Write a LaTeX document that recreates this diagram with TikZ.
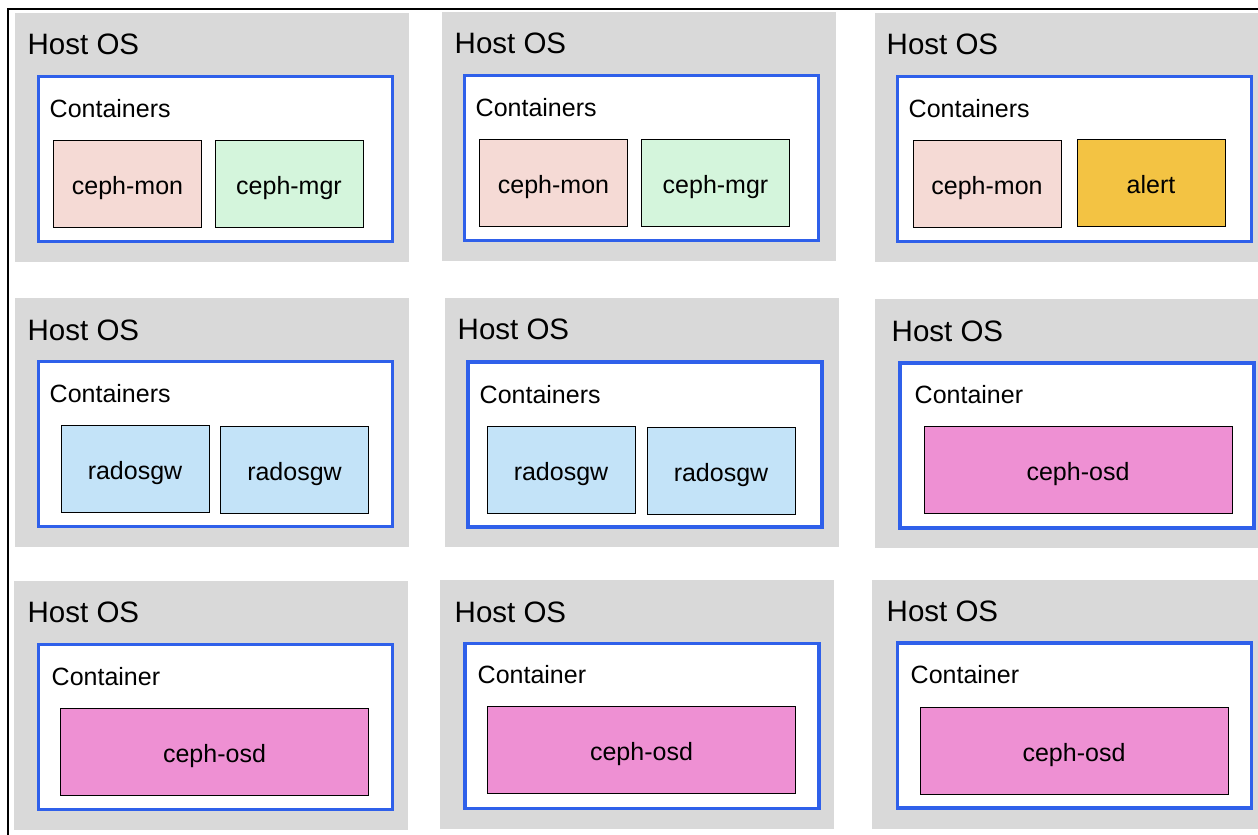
\documentclass[tikz,border=0pt]{standalone}
\usepackage{xcolor}
\usepackage{tikz}
\usepackage{fontspec}
\setmainfont{Liberation Sans}
\usetikzlibrary{positioning}
\definecolor{hostgray}{HTML}{D9D9D9}
\definecolor{ctrblue}{HTML}{2F60EA}
\definecolor{monpink}{HTML}{F5DAD5}
\definecolor{mgrgreen}{HTML}{D4F5DC}
\definecolor{alertgold}{HTML}{F3C343}
\definecolor{rgwblue}{HTML}{C3E3F8}
\definecolor{osdpink}{HTML}{EE90D3}
\newcommand\hostfont{\fontsize{29.5}{32}\selectfont}
\newcommand\boxfont{\fontsize{25}{28}\selectfont}

\begin{document}
\begin{tikzpicture}[
    x=1pt, y=-1pt,
    host/.style={fill=hostgray, inner sep=0pt, minimum width=394pt, minimum height=249pt},
    ctr/.style={draw=ctrblue, fill=white, line width=3.5pt, inner sep=0pt,
                minimum width=354pt, minimum height=165pt},
    svc/.style={draw=black, fill=#1, line width=0.8pt, inner sep=0pt,
                minimum width=148pt, minimum height=87pt, font=\boxfont,
                text height=21pt, text depth=0pt},
    osd/.style={svc=osdpink, minimum width=308pt},
    hostlbl/.style={anchor=west, inner sep=0pt, font=\hostfont},
    ctrlbl/.style={anchor=west, inner sep=0pt, font=\boxfont},
]
    \useasboundingbox (0,0) rectangle (1258,835);

    % frame
    \draw[line width=2pt] (7.7,835) -- (7.7,9.3) -- (1258,9.3);

    % row 1: mon + mgr
    \node[host] (host1) at (212,137.5) {};
    \node[hostlbl] (os1) at (27.5,44) {Host OS};
    \node[ctr] (ctr1) at (215.5,159) {};
    \node[ctrlbl] (cl1) at (49.5,109) {Containers};
    \node[svc=monpink] (mon1) at (127.5,184) {ceph-mon};
    \node[svc=mgrgreen] (mgr1) at (289,184) {ceph-mgr};

    \node[host] (host2) at (639,136) {};
    \node[hostlbl] (os2) at (454.5,43) {Host OS};
    \node[ctr] (ctr2) at (641.5,158) {};
    \node[ctrlbl] (cl2) at (475.5,108) {Containers};
    \node[svc=monpink] (mon2) at (553.5,183) {ceph-mon};
    \node[svc=mgrgreen] (mgr2) at (715.5,183) {ceph-mgr};

    \node[host] (host3) at (1072,137.5) {};
    \node[hostlbl] (os3) at (886.5,44) {Host OS};
    \node[ctr] (ctr3) at (1074.5,159) {};
    \node[ctrlbl] (cl3) at (908.5,109) {Containers};
    \node[svc=monpink] (mon3) at (987,184) {ceph-mon};
    \node[svc=alertgold] (alert) at (1151,183) {alert};

    % row 2: radosgw + osd
    \node[host] (host4) at (212,422) {};
    \node[hostlbl] (os4) at (27.5,330) {Host OS};
    \node[ctr] (ctr4) at (215.5,444) {};
    \node[ctrlbl] (cl4) at (49.5,394) {Containers};
    \node[svc=rgwblue] (rgw1) at (135,469) {radosgw};
    \node[svc=rgwblue] (rgw2) at (294.5,469.5) {radosgw};

    \node[host] (host5) at (642,422) {};
    \node[hostlbl] (os5) at (457.5,329) {Host OS};
    \node[ctr] (ctr5) at (645,444.5) {};
    \node[ctrlbl] (cl5) at (479.5,395) {Containers};
    \node[svc=rgwblue] (rgw3) at (561,469.5) {radosgw};
    \node[svc=rgwblue] (rgw4) at (721,470.5) {radosgw};

    \node[host] (host6) at (1072,423.5) {};
    \node[hostlbl] (os6) at (891.5,331) {Host OS};
    \node[ctr] (ctr6) at (1077,445.5) {};
    \node[ctrlbl] (cl6) at (914.5,395) {Container};
    \node[osd] (osd1) at (1078,469.5) {ceph-osd};

    % row 3: osd only
    \node[host] (host7) at (211,705) {};
    \node[hostlbl] (os7) at (27.5,612) {Host OS};
    \node[ctr] (ctr7) at (215.5,727) {};
    \node[ctrlbl] (cl7) at (51.5,677) {Container};
    \node[osd] (osd2) at (214.5,751.5) {ceph-osd};

    \node[host] (host8) at (637,704) {};
    \node[hostlbl] (os8) at (454.5,612) {Host OS};
    \node[ctr] (ctr8) at (642,726) {};
    \node[ctrlbl] (cl8) at (477.5,675) {Container};
    \node[osd] (osd3) at (641.5,750) {ceph-osd};

    \node[host] (host9) at (1069,704) {};
    \node[hostlbl] (os9) at (886.5,611) {Host OS};
    \node[ctr] (ctr9) at (1074.5,725.5) {};
    \node[ctrlbl] (cl9) at (910.5,675) {Container};
    \node[osd] (osd4) at (1074,750.5) {ceph-osd};
\end{tikzpicture}
\end{document}
